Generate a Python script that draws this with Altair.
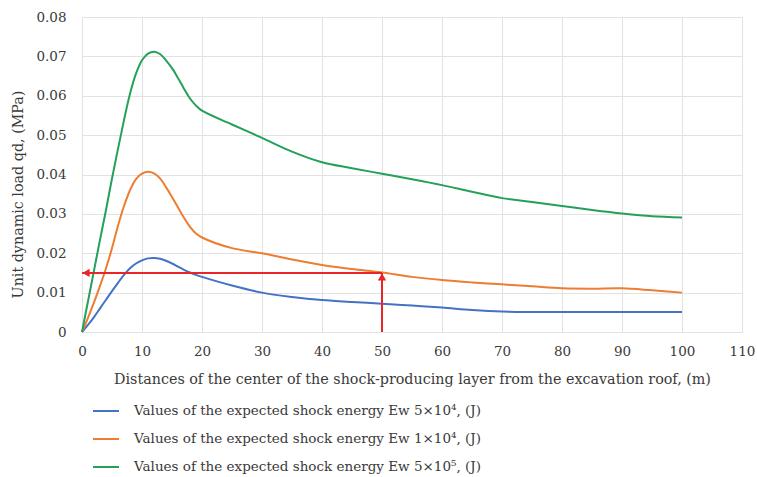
import altair as alt
import pandas as pd

# ---- data ----
x_vals = [0, 1, 2, 3, 4, 5, 6, 7, 8, 9, 10, 11, 12, 13, 14, 15, 16, 17, 18, 19, 20,
          25, 30, 35, 40, 45, 50, 55, 60, 65, 70, 75, 80, 85, 90, 95, 100]
blue = [0, 0.0018, 0.0038, 0.0060, 0.0082, 0.0104, 0.0125, 0.0145, 0.0162, 0.0174,
        0.0182, 0.0187, 0.0188, 0.0186, 0.0181, 0.0174, 0.0166, 0.0158, 0.0151, 0.0145,
        0.0140, 0.0118, 0.0100, 0.0089, 0.0081, 0.0076, 0.0072, 0.0067, 0.0062, 0.0056,
        0.0052, 0.0051, 0.0051, 0.0051, 0.0051, 0.0051, 0.0051]
orange = [0, 0.0036, 0.0075, 0.0117, 0.0162, 0.0213, 0.0270, 0.0320, 0.0360, 0.0388,
          0.0402, 0.0407, 0.0403, 0.0390, 0.0368, 0.0343, 0.0316, 0.0290, 0.0267, 0.0250,
          0.0240, 0.0213, 0.0200, 0.0184, 0.0170, 0.0160, 0.0151, 0.0140, 0.0132, 0.0126,
          0.0121, 0.0116, 0.0111, 0.0110, 0.0111, 0.0106, 0.0100]
green = [0, 0.0078, 0.0156, 0.0234, 0.0310, 0.0390, 0.0465, 0.0538, 0.0605, 0.0656,
         0.0690, 0.0707, 0.0712, 0.0706, 0.0690, 0.0670, 0.0645, 0.0618, 0.0593, 0.0575,
         0.0562, 0.0527, 0.0493, 0.0458, 0.0431, 0.0416, 0.0402, 0.0388, 0.0373, 0.0356,
         0.0340, 0.0330, 0.0320, 0.0310, 0.0301, 0.0294, 0.0291]

series_names = [
    "Values of the expected shock energy Ew 5×10⁴, (J)",
    "Values of the expected shock energy Ew 1×10⁴, (J)",
    "Values of the expected shock energy Ew 5×10⁵, (J)",
]
series_colors = ["#4472C4", "#ED7D31", "#23A15B"]

x_ticks = [0, 10, 20, 30, 40, 50, 60, 70, 80, 90, 100, 110]
y_ticks = [0, 0.01, 0.02, 0.03, 0.04, 0.05, 0.06, 0.07, 0.08]

# red reading arrows: from x=50 up to the curve, then left to the y axis
arrow_x = [0, 50]
arrow_y = [0, 0.015]

FONT = "DejaVu Serif"
FS = 13.5
TITLE_FS = 14.3
TEXT = "#3a3a3a"
GRID = "#e2e2e2"
RED = "#E8262A"

rows = []
for name, vals in zip(series_names, [blue, orange, green]):
    for xv, v in zip(x_vals, vals):
        rows.append({"x": xv, "q": v, "series": name})
df = pd.DataFrame(rows)

x_scale = alt.Scale(domain=[0, 110], nice=False)
y_scale = alt.Scale(domain=[0, 0.08], nice=False)

x_axis = alt.Axis(values=x_ticks,
                  title="Distances of the center of the shock-producing layer  from the excavation roof, (m)",
                  titleY=47, titleBaseline="middle",
                  labelPadding=12, labelFlush=False)
y_axis = alt.Axis(values=y_ticks, format=".2~f",
                  title="Unit dynamic load qd, (MPa)",
                  titleX=-64, titleY=177, titleBaseline="middle",
                  labelPadding=16, labelFlush=False, labelOverlap=False)


def xe(field="x"):
    return alt.X(f"{field}:Q", scale=x_scale, axis=x_axis)


def ye(field="q"):
    return alt.Y(f"{field}:Q", scale=y_scale, axis=y_axis)


lines = alt.Chart(df).mark_line(interpolate="catmull-rom", strokeWidth=2).encode(
    x=xe(),
    y=ye(),
    color=alt.Color("series:N", scale=alt.Scale(domain=series_names, range=series_colors),
                    sort=series_names,
                    legend=alt.Legend(title=None, orient="none", legendX=10, legendY=380,
                                      direction="vertical", symbolType="stroke",
                                      symbolSize=676, symbolStrokeWidth=2,
                                      labelOffset=14, rowPadding=7,
                                      labelFont=FONT, labelFontSize=FS, labelColor=TEXT,
                                      labelLimit=600)),
)

h_df = pd.DataFrame({"x": [arrow_x[0]], "x2": [arrow_x[1]], "q": [arrow_y[1]]})
v_df = pd.DataFrame({"x": [arrow_x[1]], "q": [arrow_y[0]], "q2": [arrow_y[1]]})
hl_df = pd.DataFrame({"x": [arrow_x[0]], "q": [arrow_y[1]]})
hu_df = pd.DataFrame({"x": [arrow_x[1]], "q": [arrow_y[1]]})

h_rule = alt.Chart(h_df).mark_rule(color=RED, strokeWidth=2).encode(
    x=xe(), x2="x2:Q", y=ye())
v_rule = alt.Chart(v_df).mark_rule(color=RED, strokeWidth=2).encode(
    x=xe(), y=ye(), y2="q2:Q")
head_left = alt.Chart(hl_df).mark_point(shape="triangle-left", filled=True, color=RED,
                                        size=70, opacity=1, xOffset=4).encode(
    x=xe(), y=ye())
head_up = alt.Chart(hu_df).mark_point(shape="triangle-up", filled=True, color=RED,
                                      size=70, opacity=1, yOffset=4).encode(
    x=xe(), y=ye())

chart = alt.layer(lines, h_rule, v_rule, head_left, head_up).properties(
    width=660, height=315,
    padding={"left": 82, "top": 17, "right": 15, "bottom": 145},
    autosize=alt.AutoSizeParams(type="none"),
    background="white",
).configure_axis(
    grid=True, gridColor=GRID, gridWidth=1, domain=False, ticks=False,
    labelFont=FONT, labelFontSize=FS, labelColor=TEXT,
    titleFont=FONT, titleFontSize=TITLE_FS, titleColor=TEXT, titleFontWeight="normal",
).configure_view(stroke=GRID)

chart.save("out.html", embed_options={"renderer": "svg", "actions": False})
